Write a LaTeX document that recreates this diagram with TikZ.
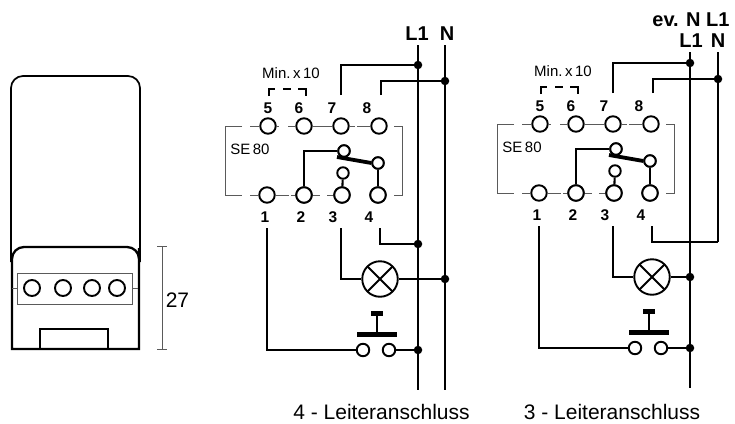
\documentclass[tikz,border=0pt]{standalone}
\usepackage{fontspec}
\setmainfont{Liberation Sans}
\usepackage{xcolor}
\definecolor{grauton}{RGB}{90, 90, 90}
\usepackage{tikz}
\usetikzlibrary{positioning}
\tikzset{
  leitung/.style={black, line width=2.1pt},
  rahmen/.style={grauton, line width=0.8pt},
  klemme/.style={circle, draw, fill=white, line width=1.9pt, minimum size=15.5, inner sep=0},
  kontakt/.style={circle, draw, fill=white, line width=1.9pt, minimum size=11.5, inner sep=0},
  punkt/.style={circle, fill=black, minimum size=8.5, inner sep=0},
  nummer/.style={inner sep=0, font=\fontsize{15.5}{17}\selectfont\bfseries},
  klein/.style={inner sep=0, font=\fontsize{15}{17}\selectfont},
  gross/.style={inner sep=0, font=\fontsize{21}{24}\selectfont},
  netz/.style={inner sep=0, font=\fontsize{20}{22}\selectfont\bfseries},
  lampe/.style={circle, draw, fill=white, line width=1.9pt, minimum size=35.5, inner sep=0,
    path picture={\draw[line width=1.9pt] (path picture bounding box.north west) -- (path picture bounding box.south east)
      (path picture bounding box.north east) -- (path picture bounding box.south west);}},
  relais/.pic={
    % Klemmen
    \foreach \nr/\x in {5/268,6/304,7/341,8/379} \node[klemme] (-k\nr) at (\x,126) {};
    \foreach \nr/\x in {1/267,2/304,3/342,4/378} \node[klemme] (-k\nr) at (\x,195) {};
    \foreach \nr/\x in {5/268,6/299,7/332,8/367} \node[nummer] (-n\nr) at (\x,108) {\nr};
    \foreach \nr/\x in {1/265,2/301,3/333,4/369} \node[nummer] (-n\nr) at (\x,217) {\nr};
    % Rahmen
    \draw[rahmen] (242,126) -- (225,126) -- (225,195) -- (242,195);
    \draw[rahmen] (394,126) -- (402,126) -- (402,195) -- (394,195);
    \draw[rahmen] (250,126) -- (-k5.west) (-k5.east) -- (279,126) (288,126) -- (-k6.west);
    \draw[rahmen] (-k6) -- (-k7) (-k7.east) -- (355,126) (357,126) -- (-k8.west);
    \draw[rahmen] (250,195) -- (-k1.west) (-k1.east) -- (289,195) (291,195) -- (-k2.west);
    \draw[rahmen] (-k2.east) -- (320,195) (327,195) -- (-k3.west);
    \node[klein] (-se) at (250,149) {SE\,80};
    \node[klein] (-min) at (291,73) {Min.\,x\,10};
    % Bruecke
    \draw[line width=1.9pt] (269,96) -- (269,89) -- (275,89) (283,89) -- (291,89) (298,89) -- (306,89) -- (306,96);
    % Schalter
    \node[kontakt] (-a) at (344,151) {};
    \node[kontakt] (-b) at (378,163) {};
    \node[kontakt] (-c) at (343,173) {};
    \draw[leitung] (-k2) |- (-a);
    \draw[leitung] (-b) -- (-k4);
    \draw[leitung] (-c) -- (-k3);
    \draw[line width=3.8pt] (337,157) -- (-b.west);
    \node[kontakt] at (-b) {};
    \node[kontakt] at (-a) {};
    \node[klemme] at (-k2) {};
    \node[klemme] at (-k3) {};
    \node[klemme] at (-k4) {};
    % Lampe und Taster
    \coordinate (-s1) at (267,228);
    \coordinate (-s3) at (341,228);
    \coordinate (-s4) at (380,228);
    \coordinate (-s7) at (341,95);
    \coordinate (-s8) at (381,95);
    \node[lampe] (-lampe) at (380,279) {};
    \node[kontakt, minimum size=12.5] (-tl) at (363,350) {};
    \node[kontakt, minimum size=12.5] (-tr) at (389,350) {};
    \draw[leitung] (-s3) |- (-lampe);
    \draw[leitung] (-s1) |- (-tl);
    \draw[line width=5pt] (357,334) -- (397,334);
    \draw[line width=5pt] (371,313.5) -- (383,313.5);
    \draw[leitung] (377,313.5) -- (377,334);
  }
}

\begin{document}
\begin{tikzpicture}[x=1pt, y=-1pt]
  \useasboundingbox (0,0) rectangle (735,423);

  % Geraet
  \draw[line width=1.7pt, rounded corners=12] (11,262) -- (11,76) -- (140,76) -- (140,262);
  \draw[line width=2.3pt, fill=white] (12,349) -- (12,260) [rounded corners=12] -- (12,247) -- (139,247) -- (139,260) [sharp corners] -- (139,349) -- cycle;
  \draw[line width=0.8pt, grauton] (17,273) rectangle (132,304);
  \draw[line width=0.8pt, grauton] (12,288) -- (17,288) (132,288) -- (138,288);
  \foreach \nr/\x in {1/32,2/63,3/92,4/117} \node[klemme, minimum size=16] (g\nr) at (\x,288) {};
  \draw[line width=1.9pt] (40,349) -- (40,329) -- (108,329) -- (108,349);
  % Mass
  \draw[rahmen] (157,246) -- (167,246) (162,246) -- (162,349) (157,349) -- (167,349);
  \node[gross] (mass) at (177.5,300) {27};

  % 4 - Leiteranschluss
  \pic (vier) at (0,0) {relais};
  \coordinate (l1oben) at (418,45);
  \coordinate (l1unten) at (418,390);
  \coordinate (noben) at (445,45);
  \coordinate (nunten) at (445,390);
  \draw[leitung] (l1oben) -- (l1unten);
  \draw[leitung] (noben) -- (nunten);
  \node[punkt] (p1) at (418,65) {};
  \node[punkt] (p2) at (445,81) {};
  \node[punkt] (p3) at (418,244) {};
  \node[punkt] (p4) at (445,279) {};
  \node[punkt] (p5) at (418,350) {};
  \draw[leitung] (vier-s7) |- (p1);
  \draw[leitung] (vier-s8) |- (p2);
  \draw[leitung] (vier-s4) |- (p3);
  \draw[leitung] (vier-lampe) -- (p4);
  \draw[leitung] (vier-tr) -- (p5);
  \node[netz] (tl1) at (417,34) {L1};
  \node[netz] (tn) at (447,34) {N};
  \node[gross] (tvier) at (381.5,412) {4 - Leiteranschluss};

  % 3 - Leiteranschluss
  \pic (drei) at (272,-2) {relais};
  \coordinate (l2oben) at (690,52);
  \coordinate (l2unten) at (690,388);
  \coordinate (n2oben) at (718,52);
  \coordinate (n2unten) at (718,242);
  \draw[leitung] (l2oben) -- (l2unten);
  \draw[leitung] (n2oben) -- (n2unten);
  \node[punkt] (q1) at (690,63) {};
  \node[punkt] (q2) at (718,79) {};
  \node[punkt] (q4) at (690,277) {};
  \node[punkt] (q5) at (690,348) {};
  \draw[leitung] (drei-s7) |- (q1);
  \draw[leitung] (drei-s8) |- (q2);
  \draw[leitung] (drei-s4) |- (n2unten);
  \draw[leitung] (drei-lampe) -- (q4);
  \draw[leitung] (drei-tr) -- (q5);
  \node[netz] (tev) at (691,20) {ev. N L1};
  \node[netz] (tl2) at (691,41) {L1};
  \node[netz] (tn2) at (718,41) {N};
  \node[gross] (tdrei) at (612,412) {3 - Leiteranschluss};
\end{tikzpicture}
\end{document}
